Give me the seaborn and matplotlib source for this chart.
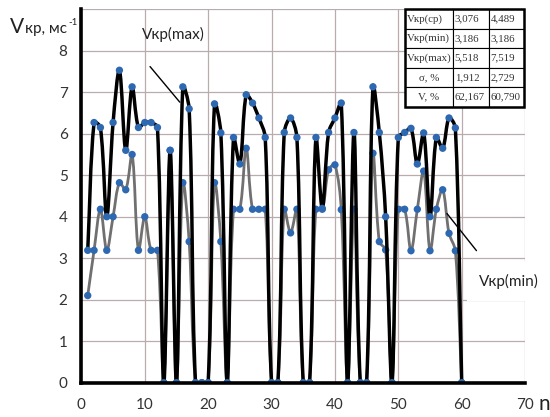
import numpy as np
import pandas as pd
import matplotlib
matplotlib.use('Agg')
import matplotlib.pyplot as plt
import seaborn as sns
from matplotlib.path import Path
from matplotlib.patches import PathPatch, Rectangle
from matplotlib.ticker import MultipleLocator

# measurement number
n = list(range(1, 61))

# critical speed, max and min series (m/s)
v_max = [3.19, 6.27, 6.15, 4.00, 6.27, 7.53, 5.60, 7.13, 6.15, 6.27,
         6.27, 6.15, 0, 5.60, 0, 7.13, 6.60, 0, 0, 0,
         6.72, 6.02, 0, 5.91, 5.27, 6.94, 6.74, 6.38, 5.91, 0,
         0, 6.03, 6.38, 5.91, 0, 0, 5.91, 4.20, 6.03, 6.38,
         6.74, 0, 6.03, 0, 0, 7.13, 6.03, 4.00, 0, 5.91,
         6.03, 6.13, 5.27, 6.02, 4.00, 5.91, 5.65, 6.38, 6.14, 0]
v_min = [2.10, 3.19, 4.18, 3.19, 4.00, 4.82, 4.65, 5.50, 3.19, 4.00,
         3.19, 3.19, 0, 5.60, 0, 4.82, 3.40, 0, 0, 0,
         4.82, 3.40, 0, 4.18, 4.18, 5.65, 4.18, 4.18, 4.18, 0,
         0, 4.18, 3.61, 4.18, 0, 0, 4.18, 4.18, 5.13, 5.25,
         4.17, 0, 4.18, 0, 0, 5.53, 3.40, 3.20, 0, 4.18,
         4.18, 3.18, 4.18, 5.10, 3.18, 4.18, 4.65, 3.60, 3.18, 0]

# stats table
table_rows = ['Vкр(ср)', 'Vкр(min)', 'Vкр(max)', 'σ, %', 'V, %']
table_col1 = ['3,076', '3,186', '5,518', '1,912', '62,167']
table_col2 = ['4,489', '3,186', '7,519', '2,729', '60,790']

y_ticks = list(range(0, 10))
y_labels = [str(v) for v in range(0, 9)] + ['']

df = pd.DataFrame({'n': n, 'vmax': v_max, 'vmin': v_min})

sns.set_style('white')
plt.rcParams['font.family'] = ['Lato', 'DejaVu Sans']

BLUE = '#2e68b0'
GRID = '#b8acac'


def smooth_path(xs, ys, scale, f=1/3):
    # excel-like smoothed line: bezier handles scaled by neighbouring segment lengths (in pixels)
    pts = np.column_stack([xs, ys]).astype(float)
    m = len(pts)
    c_out, c_in = [], []
    for i in range(m):
        prev = pts[i - 1] if i > 0 else pts[i]
        nxt = pts[i + 1] if i < m - 1 else pts[i]
        tan = nxt - prev
        d_prev = np.hypot(*((pts[i] - prev) * scale))
        d_next = np.hypot(*((nxt - pts[i]) * scale))
        tot = d_prev + d_next
        if tot == 0:
            c_out.append(pts[i]); c_in.append(pts[i])
        else:
            c_out.append(pts[i] + tan * f * d_next / tot)
            c_in.append(pts[i] - tan * f * d_prev / tot)
    verts = [pts[0]]
    codes = [Path.MOVETO]
    for i in range(m - 1):
        verts += [c_out[i], c_in[i + 1], pts[i + 1]]
        codes += [Path.CURVE4] * 3
    return Path(verts, codes)


fig = plt.figure(figsize=(5.5, 4.17), dpi=100)
ax = fig.add_axes([0.148, 0.0823, 0.8067, 0.8955])
ax.set_xlim(0, 70)
ax.set_ylim(0, 9)
p = ax.transData.transform([[0, 0], [1, 1]])
px_scale = np.abs(p[1] - p[0])

ax.add_patch(PathPatch(smooth_path(df['n'], df['vmin'], px_scale), fill=False, ec='#707070',
                       lw=2.0, joinstyle='round', capstyle='round', zorder=3))
sns.scatterplot(data=df, x='n', y='vmin', ax=ax, s=28, color=BLUE, edgecolor='none',
                zorder=4, legend=False)
ax.add_patch(PathPatch(smooth_path(df['n'], df['vmax'], px_scale), fill=False, ec='black',
                       lw=2.5, joinstyle='round', capstyle='round', zorder=5))
sns.scatterplot(data=df, x='n', y='vmax', ax=ax, s=28, color=BLUE, edgecolor='none',
                zorder=6, legend=False)

ax.set_xlim(0, 70)
ax.set_ylim(0, 9)
ax.xaxis.set_major_locator(MultipleLocator(10))
ax.xaxis.set_minor_locator(MultipleLocator(2))
ax.set_yticks(y_ticks)
ax.set_yticklabels(y_labels)
ax.yaxis.set_minor_locator(MultipleLocator(0.2))
ax.grid(True, which='major', color=GRID, lw=0.9)
ax.set_axisbelow(True)
ax.set_xlabel('')
ax.set_ylabel('')

for s in ['top', 'right']:
    ax.spines[s].set_visible(False)
for s in ['left', 'bottom']:
    ax.spines[s].set_linewidth(2.6)
    ax.spines[s].set_color('black')
    ax.spines[s].set_zorder(7)

ax.tick_params(axis='both', which='both', direction='in', color='black', width=1.6)
ax.tick_params(axis='both', which='major', length=4)
ax.tick_params(axis='both', which='minor', length=3)
ax.tick_params(axis='y', which='major', pad=10, labelsize=11, labelcolor='#333333')
ax.tick_params(axis='x', which='major', pad=11, labelsize=11, labelcolor='#333333')

# series labels with leader lines
ax.text(14.45, 8.39, 'Vкр(max)', fontsize=11, ha='center', va='center', color='#222222')
ax.annotate('', xy=(15.8, 6.71), xytext=(10.55, 7.67),
            arrowprops=dict(arrowstyle='-', lw=1, color='black'), zorder=8)
ax.text(67.5, 2.44, 'Vкр(min)', fontsize=11, ha='center', va='center', color='#222222',
        clip_on=False, zorder=8,
        bbox=dict(boxstyle='square,pad=0.8', fc='white', ec='none'))
ax.annotate('', xy=(62.6, 3.13), xytext=(57.4, 4.13),
            arrowprops=dict(arrowstyle='-', lw=1, color='black'), zorder=8)

# axis titles
fig.text(10 / 550, 1 - 33 / 417, 'V', fontsize=15, color='#222222', va='baseline')
fig.text(25 / 550, 1 - 33 / 417, 'кр, мс', fontsize=11, color='#222222', va='baseline')
fig.text(68 / 550, 1 - 25 / 417, '-1', fontsize=7, color='#222222', va='baseline')
fig.text(538 / 550, 1 - 410 / 417, 'n', fontsize=15, color='#222222', va='baseline')

# statistics table
cells = [[r, a, b] for r, a, b in zip(table_rows, table_col1, table_col2)]
tbl = ax.table(cellText=cells, cellLoc='left', bbox=[0.729, 0.739, 0.2685, 0.261],
               colWidths=[0.403, 0.303, 0.294], zorder=10)
tbl.auto_set_font_size(False)
for (r, c), cell in tbl.get_celld().items():
    cell.PAD = 0.05
    cell.set_linewidth(0.8)
    cell.set_edgecolor('black')
    cell.set_facecolor('white')
    cell.get_text().set_fontfamily(['Liberation Serif', 'DejaVu Serif'])
    cell.get_text().set_fontsize(7.8)
    cell.get_text().set_color('#333333')
    if c == 0 and r >= 3:
        cell._loc = 'center'
        cell.get_text().set_ha('center')
ax.add_patch(Rectangle((0.729, 0.739), 0.2685, 0.261, transform=ax.transAxes, fill=False,
                       ec='black', lw=1.8, zorder=11, clip_on=False))

fig.savefig('out.png', dpi=100)
